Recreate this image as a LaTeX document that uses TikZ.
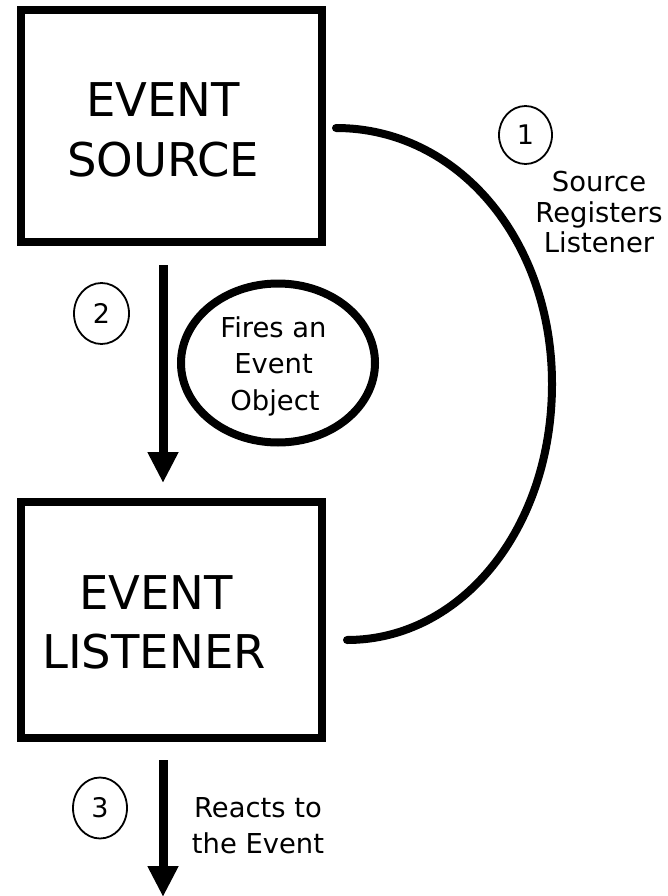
\documentclass[tikz,border=0pt]{standalone}
\usepackage{fontspec}
\setmainfont{DejaVu Sans}
\usetikzlibrary{arrows.meta,shapes.geometric}
\begin{document}
\begin{tikzpicture}[x=1pt,y=-1pt,
  box/.style={draw, line width=8pt, minimum width=301pt, inner sep=0pt},
  big/.style={font=\fontsize{46.5}{56}\selectfont, inner sep=0pt, anchor=base},
  small/.style={font=\fontsize{27.4}{33}\selectfont, inner sep=0pt, anchor=base},
  num/.style={draw, ellipse, line width=1.8pt, inner sep=0pt, font=\fontsize{27}{32}\selectfont},
  flow/.style={line width=9pt, -{Triangle[width=29pt,length=31pt]}},
  thick8/.style={line width=8pt},
]
\useasboundingbox (0,0) rectangle (668,896);
% boxes
\node[box, minimum height=232pt] (src) at (171.5,126) {};
\node[box, minimum height=236pt] (lis) at (171.5,620) {};
\node[big] (srcA) at (163,117) {EVENT};
\node[big] (srcB) at (163,177) {SOURCE};
\node[big] (lisA) at (156,609) {EVENT};
\node[big] (lisB) at (154,668) {LISTENER};
% step 1: arc
\coordinate (arcS) at (336,128);
\coordinate (arcM) at (552,384);
\coordinate (arcE) at (347,640);
\draw[thick8, line cap=round] (arcS) .. controls (458,128) and (552,240) .. (arcM)
      .. controls (552,528) and (462,640) .. (arcE);
\node[num, minimum width=53pt, minimum height=58pt] (n1) at (525.5,135) {1};
\node[small] (r1) at (599,192) {Source};
\node[small] (r2) at (599,222) {Registers};
\node[small] (r3) at (599,252) {Listener};
% step 2
\draw[flow, shorten <=19pt, shorten >=15pt] ([xshift=-8.5pt]src.south) -- ([xshift=-8.5pt]lis.north);
\node[num, minimum width=55pt, minimum height=61pt] (n2) at (101.5,313.5) {2};
\node[draw, ellipse, thick8, minimum width=194pt, minimum height=159pt, inner sep=0pt] (fire) at (278,363) {};
\node[small] (f1) at (273.5,337) {Fires an};
\node[small] (f2) at (273.5,373) {Event};
\node[small] (f3) at (275,410) {Object};
% step 3
\coordinate (endpt) at (163,897);
\draw[flow, shorten <=18pt] ([xshift=-8.5pt]lis.south) -- (endpt);
\node[num, minimum width=54pt, minimum height=61pt] (n3) at (100,808) {3};
\node[small] (e1) at (258,817) {Reacts to};
\node[small] (e2) at (258,853) {the Event};
\end{tikzpicture}
\end{document}
